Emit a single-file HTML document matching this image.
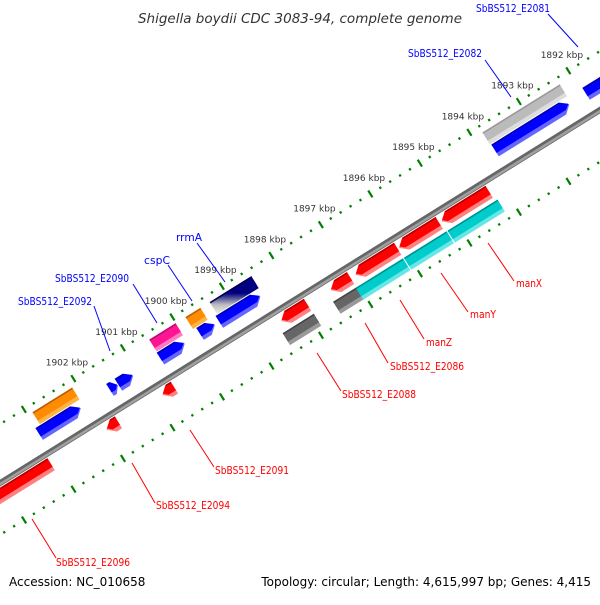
<!DOCTYPE html>
<html><head><meta charset="utf-8"><style>
body{margin:0;background:#fff}
svg text{font-family:"DejaVu Sans","Liberation Sans",sans-serif}
</style></head><body>
<svg id="map" width="600" height="600" viewBox="0 0 600 600" xmlns="http://www.w3.org/2000/svg">
<defs>
<linearGradient id="navyGrad" x1="0" y1="0" x2="0" y2="1"><stop offset="0" stop-color="#000080"/><stop offset="0.45" stop-color="#000080"/><stop offset="0.75" stop-color="#bbbbbb"/><stop offset="1" stop-color="#eeeeee"/></linearGradient>
</defs>
<rect width="600" height="600" fill="#fff"/>
<g id="rulers"></g>
<g id="backbone"></g>
<g id="features"></g>
<g id="labels"></g>
<text x="300" y="23" text-anchor="middle" font-size="13.5" font-style="italic" fill="#333">Shigella boydii CDC 3083-94, complete genome</text>
<text x="9" y="586" font-size="12" fill="#000">Accession: NC_010658</text>
<text x="591" y="586" font-size="12" text-anchor="end" fill="#000">Topology: circular; Length: 4,615,997 bp; Genes: 4,415</text>
</svg>
<script>
// data
const tickKbp = [1890,1891,1892,1893,1894,1895,1896,1897,1898,1899,1900,1901,1902,1903,1904];
const tickLabels = ["1892 kbp","1893 kbp","1894 kbp","1895 kbp","1896 kbp","1897 kbp","1898 kbp","1899 kbp","1900 kbp","1901 kbp","1902 kbp"];
const labelKbp = [1892,1893,1894,1895,1896,1897,1898,1899,1900,1901,1902];
const featStart = [1893.81,1899.32,1899.81,1900.54,1902.90, 1893.79,1891.95,1899.36,1899.75,1900.55,1901.57,1901.40,1903.00, 1904.5,1901.98,1900.85,1898.45,1897.45,1896.95,1896.07,1895.21, 1898.54,1897.52,1897.06,1896.09,1895.21];
const featEnd   = [1892.25,1898.48,1899.51,1900.01,1902.10, 1892.29,1890.8,1898.53,1899.45,1900.06,1901.41,1901.10,1902.16, 1903.10,1901.74,1900.61,1897.92,1897.05,1896.10,1895.26,1894.25, 1897.91,1896.98,1896.11,1895.23,1894.20];
const featTrack = ["outerTop","outerTop","outerTop","outerTop","outerTop", "innerTop","innerTop","innerTop","innerTop","innerTop","innerTop","innerTop","innerTop", "innerBot","innerBot","innerBot","innerBot","innerBot","innerBot","innerBot","innerBot", "outerBot","outerBot","outerBot","outerBot","outerBot"];
const featColor = ["#bbbbbb","navy","#ff8c00","#ff1493","#ff8c00", "#0000ff","#0000ff","#0000ff","#0000ff","#0000ff","#0000ff","#0000ff","#0000ff", "#ff0000","#ff0000","#ff0000","#ff0000","#ff0000","#ff0000","#ff0000","#ff0000", "#666666","#666666","#00cccc","#00cccc","#00cccc"];

const NS="http://www.w3.org/2000/svg";
const UX=0.849, UY=-0.528, NX=-0.528, NY=-0.849;
function sOf(kbp){return 287-(kbp-1893)*58.3;}
function P(s,r){return [300+UX*s+NX*r, 293+UY*s+NY*r];}
const trackR={outerTop:33,innerTop:18,innerBot:-14,outerBot:-32};
const arrowDir={outerTop:0,innerTop:1,innerBot:-1,outerBot:0};
function mk(tag,attrs,parent){const e=document.createElementNS(NS,tag);for(const k in attrs)e.setAttribute(k,attrs[k]);parent.appendChild(e);return e;}
function lighten(c){const m={"#bbbbbb":"#dddddd","navy":"#cccccc","#ff8c00":"#ffb347","#ff1493":"#ff7ac0","#0000ff":"#6666ff","#ff0000":"#ff8080","#666666":"#999999","#00cccc":"#66e6e6"};return m[c]||c;}
function darken(c){const m={"#bbbbbb":"#999999","navy":"#000050","#ff8c00":"#b86000","#ff1493":"#b0106a","#0000ff":"#0000aa","#ff0000":"#b00000","#666666":"#444444","#00cccc":"#009090"};return m[c]||c;}

// rulers
const rul=document.getElementById('rulers');
[47,-47].forEach(function(rr,ri){
  for(let k=1889;k<=1905;k+=0.2){
    const kk=Math.round(k*10)/10;
    const major=Math.abs(kk-Math.round(kk))<0.01;
    const s=sOf(kk);
    const h=major?4:1.2;
    const a=P(s,rr-h),b=P(s,rr+h);
    const l=mk('line',{x1:a[0],y1:a[1],x2:b[0],y2:b[1],stroke:'#008000','stroke-width':2.2},rul);
    
    
  }
});
tickLabels.forEach(function(t,i){
  const p=P(sOf(labelKbp[i])+3,64);
  const e=mk('text',{x:p[0],y:p[1]+3,'text-anchor':'middle','font-size':9,fill:'#333'},rul);
  
  
  e.textContent=t;
});

// backbone
const bb=document.getElementById('backbone');
const b1=P(-500,-3),b2=P(500,-3);
const bl=mk('line',{x1:b1[0],y1:b1[1],x2:b2[0],y2:b2[1],stroke:'#666','stroke-width':6},bb);


const b3=P(-500,-4),b4=P(500,-4);
mk('line',{x1:b3[0],y1:b3[1],x2:b4[0],y2:b4[1],stroke:'#a0a0a0','stroke-width':2.5},bb);

// features
const fg=document.getElementById('features');
const W=14;
for(let i=0;i<featStart.length;i++){
  const tr=featTrack[i], rc=trackR[tr], dir=arrowDir[tr];
  let s1=sOf(featStart[i]), s2=sOf(featEnd[i]);
  if(s1>s2){const t=s1;s1=s2;s2=t;}
  const g=mk('g',{},fg);
  
  
  const head=Math.min(8,(s2-s1)*0.6);
  function outline(){
    let pts;
    if(dir===1){pts=[P(s1,rc-W/2),P(s2-head,rc-W/2),P(s2,rc),P(s2-head,rc+W/2),P(s1,rc+W/2)];}
    else if(dir===-1){pts=[P(s1,rc),P(s1+head,rc+W/2),P(s2,rc+W/2),P(s2,rc-W/2),P(s1+head,rc-W/2)];}
    else pts=[P(s1,rc-W/2),P(s2,rc-W/2),P(s2,rc+W/2),P(s1,rc+W/2)];
    return pts.map(p=>p[0].toFixed(1)+','+p[1].toFixed(1)).join(' ');
  }
  const col=featColor[i];
  mk('polygon',{points:outline(),fill:lighten(col)},g);
  let pts;
  const rlo=rc-W/2+4, rhi=rc+W/2;
  if(dir===1) pts=[P(s1,rlo),P(s2-head+(head*4/W),rlo),P(s2-0.5,rc+1),P(s2-head,rhi),P(s1,rhi)];
  else if(dir===-1) pts=[P(s1+1,rc+1),P(s1+head,rhi),P(s2,rhi),P(s2,rlo),P(s1+head*(1-4/W*2)+2,rlo)];
  else pts=[P(s1,rlo),P(s2,rlo),P(s2,rhi),P(s1,rhi)];
  mk('polygon',{points:pts.map(p=>p[0].toFixed(1)+','+p[1].toFixed(1)).join(' '),fill:col==='navy'?'url(#navyGrad)':col},g);
  if(col==='navy'){mk('polygon',{points:outline(),fill:'url(#navyGrad)'},g);}
  const e1=P(s1+(dir===-1?head:0),rhi-0.8),e2=P(s2-(dir===1?head:0),rhi-0.8);
  mk('line',{x1:e1[0],y1:e1[1],x2:e2[0],y2:e2[1],stroke:darken(col),'stroke-width':1.5},g);
}

// annotation labels
const lg=document.getElementById('labels');
const labs=[
 ["SbBS512_E2081",476,12,"#0000ff",548,14,578,47],
 ["SbBS512_E2082",408,57,"#0000ff",485,60,511,97],
 ["rrmA",176,241,"#0000ff",197,243,225,282],
 ["cspC",144,264,"#0000ff",168,265,192,301],
 ["SbBS512_E2090",55,282,"#0000ff",133,284,157,323],
 ["SbBS512_E2092",18,305,"#0000ff",94,306,110,351],
 ["manX",516,287,"#ff0000",488,243,514,281],
 ["manY",470,318,"#ff0000",441,273,468,312],
 ["manZ",426,346,"#ff0000",400,300,424,339],
 ["SbBS512_E2086",390,370,"#ff0000",365,323,388,363],
 ["SbBS512_E2088",342,398,"#ff0000",317,353,341,391],
 ["SbBS512_E2091",215,474,"#ff0000",190,430,214,467],
 ["SbBS512_E2094",156,509,"#ff0000",132,463,155,503],
 ["SbBS512_E2096",56,566,"#ff0000",32,519,56,558]
];
labs.forEach(function(L){
  const ln=mk('line',{x1:L[4],y1:L[5],x2:L[6],y2:L[7],stroke:L[3],'stroke-width':1},lg);
  
  
  const t=mk('text',{x:L[1],y:L[2],'font-size':11,fill:L[3],textLength:(L[0].length>5?74:L[0].length*6.5),lengthAdjust:'spacingAndGlyphs'},lg);
  
  
  t.textContent=L[0];
});
</script>
</body></html>
